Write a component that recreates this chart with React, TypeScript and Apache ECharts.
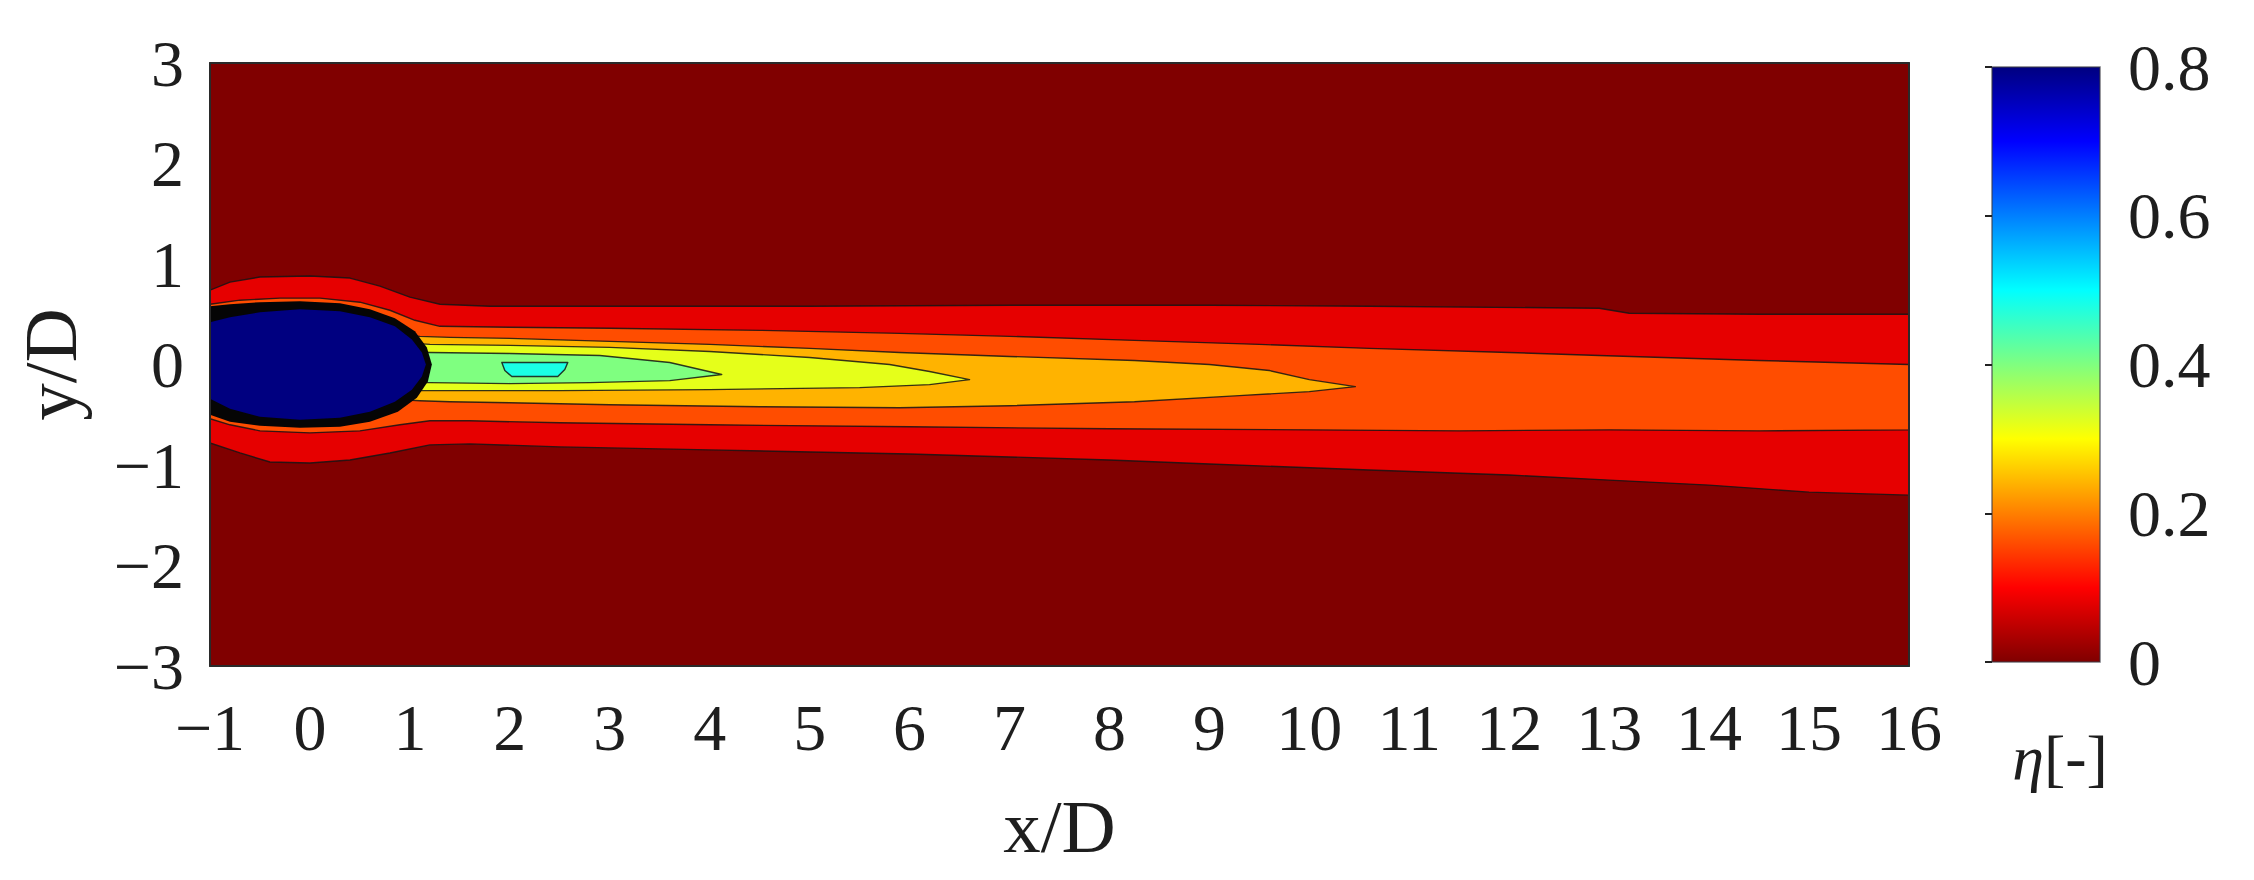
import React, { useEffect, useRef } from "react";
import * as echarts from "echarts";

// ---------------- data ----------------
const xRange = [-1, 16];
const yRange = [-3, 3];
const etaRange = [0, 0.8];
const etaTickStep = 0.2;

// reversed jet colormap stops (η, colour)
const jetEta = [0, 0.1, 0.3, 0.5, 0.7, 0.8];
const jetColors = ["#800000", "#ff0000", "#ffff00", "#00ffff", "#0000ff", "#000080"];

// filled-contour levels of η
const bandLevels = [0, 0.08, 0.16, 0.24, 0.32, 0.4, 0.48];

// contour η = 0.08 (x/D, y/D)
const contour008 = [
  [-1, 0.74], [-0.8, 0.82], [-0.5, 0.87], [0.0, 0.88], [0.4, 0.86], [0.7, 0.78], [1.0, 0.67],
  [1.3, 0.6], [1.8, 0.58], [3, 0.58], [5, 0.58], [7, 0.59], [9, 0.59], [10.6, 0.58], [12.9, 0.56],
  [13.2, 0.51], [14.5, 0.5], [16, 0.5],
  [16, -1.3], [15, -1.27], [14, -1.2], [13, -1.15], [12, -1.1], [10.6, -1.05], [9, -0.99], [8, -0.95],
  [6, -0.89], [4, -0.85], [2.5, -0.82], [1.6, -0.79], [1.2, -0.8], [0.8, -0.88], [0.4, -0.95],
  [0.0, -0.98], [-0.4, -0.97], [-0.7, -0.88], [-1, -0.78],
];
// contour η = 0.16
const contour016 = [
  [-1, 0.6], [-0.7, 0.64], [-0.3, 0.66], [0.1, 0.66], [0.5, 0.62], [0.8, 0.54], [1.05, 0.44],
  [1.3, 0.38], [2, 0.37], [3, 0.36], [4.5, 0.34], [5.9, 0.31], [7, 0.28], [8.25, 0.24], [9.5, 0.2],
  [10.6, 0.16], [12, 0.12], [12.9, 0.09], [14.5, 0.04], [16, 0.0],
  [16, -0.65], [14.5, -0.66], [13, -0.65], [11.5, -0.66], [10, -0.65], [8, -0.64], [6, -0.62],
  [4, -0.6], [2.5, -0.58], [1.6, -0.56], [1.2, -0.56], [0.9, -0.6], [0.5, -0.66], [0.0, -0.68],
  [-0.5, -0.66], [-0.8, -0.6], [-1, -0.54],
];
// contour η = 0.24
const contour024 = [
  [0.9, 0.3], [1.1, 0.28], [1.4, 0.27], [2, 0.26], [3, 0.23], [4, 0.2], [5, 0.16], [5.9, 0.12],
  [7, 0.08], [8.25, 0.04], [9, 0.0], [9.6, -0.06], [10.0, -0.15], [10.46, -0.22], [10.0, -0.27],
  [9.3, -0.31], [8.25, -0.37], [7, -0.41], [5.9, -0.43], [4.5, -0.42], [3, -0.4], [2, -0.38],
  [1.4, -0.37], [1.1, -0.36], [0.9, -0.35],
];
// contour η = 0.32
const contour032 = [
  [0.9, 0.22], [1.2, 0.2], [2, 0.19], [3, 0.17], [4, 0.13], [5, 0.07], [5.8, 0.0], [6.2, -0.07],
  [6.6, -0.15], [6.2, -0.2], [5.5, -0.23], [4, -0.25], [2.5, -0.26], [1.2, -0.26], [0.9, -0.26],
];
// contour η = 0.40
const contour040 = [
  [0.9, 0.13], [1.2, 0.12], [2, 0.11], [2.9, 0.09], [3.6, 0.02], [4.12, -0.1], [3.6, -0.16],
  [2.8, -0.18], [2, -0.19], [1.2, -0.18], [0.9, -0.18],
];
// contour η = 0.48 (island)
const contour048 = [
  [1.92, 0.02], [2.58, 0.02], [2.55, -0.05], [2.48, -0.12], [2.02, -0.12], [1.95, -0.06],
];
// packed contour lines (0.56–0.72) round the hole
const holeRing = [
  [-1, 0.58], [-0.8, 0.6], [-0.5, 0.62], [-0.1, 0.63], [0.3, 0.61], [0.6, 0.55], [0.85, 0.46],
  [1.05, 0.33], [1.17, 0.17], [1.22, 0.0], [1.18, -0.17], [1.07, -0.33], [0.88, -0.47],
  [0.6, -0.57], [0.3, -0.62], [-0.1, -0.63], [-0.5, -0.61], [-0.8, -0.57], [-1, -0.5],
];
// η ≥ 0.8 (hole)
const holeCore = [
  [-1, 0.42], [-0.8, 0.47], [-0.5, 0.52], [-0.1, 0.55], [0.3, 0.53], [0.6, 0.47], [0.85, 0.38],
  [1.02, 0.25], [1.12, 0.12], [1.16, 0.0], [1.12, -0.12], [1.02, -0.25], [0.85, -0.37],
  [0.6, -0.47], [0.3, -0.53], [-0.1, -0.55], [-0.5, -0.52], [-0.8, -0.44], [-1, -0.34],
];

// ---------------- helpers ----------------
function hexToRgb(h: string) {
  const n = parseInt(h.slice(1), 16);
  return [(n >> 16) & 255, (n >> 8) & 255, n & 255];
}
function jet(eta: number) {
  for (let i = 0; i < jetEta.length - 1; i++) {
    if (eta <= jetEta[i + 1]) {
      const t = (eta - jetEta[i]) / (jetEta[i + 1] - jetEta[i]);
      const a = hexToRgb(jetColors[i]);
      const b = hexToRgb(jetColors[i + 1]);
      const c = a.map((v, k) => Math.round(v + (b[k] - v) * t));
      return `rgb(${c[0]},${c[1]},${c[2]})`;
    }
  }
  return jetColors[jetColors.length - 1];
}
const fmtMinus = (v: number) => (v < 0 ? "\u2212" + Math.abs(v) : String(v));

const FONT = "'Liberation Serif', 'DejaVu Serif', serif";
const TXT = "#1e1e1e";

export default function App() {
  const ref = useRef<HTMLDivElement>(null);
  useEffect(() => {
    document.body.style.margin = "0";
    const chart = echarts.init(ref.current!, null, { renderer: "svg" });

    const domain = [
      [xRange[0], yRange[0]], [xRange[1], yRange[0]], [xRange[1], yRange[1]], [xRange[0], yRange[1]],
    ];
    const bandPolys = [domain, contour008, contour016, contour024, contour032, contour040, contour048];
    const shapes: { pts: number[][]; fill: string; stroke: string; lw: number }[] = bandPolys.map((p, i) => ({
      pts: p,
      fill: jet(bandLevels[i]),
      stroke: i === 0 ? "none" : "rgba(20,20,20,0.85)",
      lw: 1.4,
    }));
    shapes.push({ pts: holeRing, fill: "#050505", stroke: "none", lw: 0 });
    shapes.push({ pts: holeCore, fill: jet(etaRange[1]), stroke: "none", lw: 0 });

    const stops = jetEta.map((e, i) => ({ offset: (e - etaRange[0]) / (etaRange[1] - etaRange[0]), color: jetColors[i] }));

    const frameLine = { show: true, onZero: false, lineStyle: { color: "#2a2a2a", width: 2 } };

    chart.setOption({
      animation: false,
      backgroundColor: "#ffffff",
      grid: [
        { left: 210, top: 63, width: 1699, height: 603 },
        { left: 1992, top: 67, width: 108, height: 595 },
      ],
      xAxis: [
        {
          gridIndex: 0, type: "value", min: xRange[0], max: xRange[1], interval: 1, z: 5,
          axisLine: frameLine, axisTick: { show: false }, splitLine: { show: false },
          axisLabel: { formatter: fmtMinus, fontFamily: FONT, fontSize: 66, color: TXT, margin: 28 },
          name: "x/D", nameLocation: "middle", nameGap: 123,
          nameTextStyle: { fontFamily: FONT, fontSize: 75, color: TXT },
        },
        {
          gridIndex: 0, type: "value", position: "top", min: xRange[0], max: xRange[1], z: 5,
          axisLine: frameLine, axisTick: { show: false }, axisLabel: { show: false }, splitLine: { show: false },
        },
        {
          gridIndex: 1, type: "value", min: 0, max: 1, show: false,
        },
      ],
      yAxis: [
        {
          gridIndex: 0, type: "value", min: yRange[0], max: yRange[1], interval: 1, z: 5,
          axisLine: frameLine, axisTick: { show: false }, splitLine: { show: false },
          axisLabel: { formatter: fmtMinus, fontFamily: FONT, fontSize: 66, color: TXT, margin: 26 },
          name: "y/D", nameLocation: "middle", nameGap: 122, nameRotate: 90,
          nameTextStyle: { fontFamily: FONT, fontSize: 75, color: TXT },
        },
        {
          gridIndex: 0, type: "value", position: "right", min: yRange[0], max: yRange[1], z: 5,
          axisLine: frameLine, axisTick: { show: false }, axisLabel: { show: false }, splitLine: { show: false },
        },
        {
          gridIndex: 1, type: "value", position: "right", min: etaRange[0], max: etaRange[1], interval: etaTickStep, z: 5,
          axisLine: { show: false }, splitLine: { show: false },
          axisTick: { show: true, inside: true, length: 7, lineStyle: { color: "#222", width: 2 } },
          axisLabel: {
            formatter: (v: number) => String(Math.round(v * 10) / 10),
            fontFamily: FONT, fontSize: 66, color: TXT, margin: 28,
          },
        },
      ],
      series: [
        {
          type: "custom",
          xAxisIndex: 0,
          yAxisIndex: 0,
          z: 1,
          clip: true,
          data: shapes.map((_, i) => [i, 0]),
          renderItem: (params: any, api: any) => {
            const s = shapes[params.dataIndex];
            const points = s.pts.map((p) => api.coord(p));
            return {
              type: "polygon",
              shape: { points },
              style: { fill: s.fill, stroke: s.stroke, lineWidth: s.lw, lineJoin: "round" },
            };
          },
        },
        {
          type: "custom",
          xAxisIndex: 2,
          yAxisIndex: 2,
          z: 1,
          data: [[0, etaRange[0]]],
          renderItem: (params: any, api: any) => {
            const p0 = api.coord([0, etaRange[0]]);
            const p1 = api.coord([1, etaRange[1]]);
            return {
              type: "rect",
              shape: { x: p0[0], y: p1[1], width: p1[0] - p0[0], height: p0[1] - p1[1] },
              style: {
                fill: new echarts.graphic.LinearGradient(0, 1, 0, 0, stops),
                stroke: "rgba(60,60,70,0.7)",
                lineWidth: 1.5,
              },
            };
          },
        },
      ],
      graphic: [
        {
          type: "text",
          x: 2060,
          y: 757,
          style: {
            text: "{i|η}[-]",
            align: "center",
            verticalAlign: "middle",
            fontFamily: FONT,
            fontSize: 64,
            fill: TXT,
            rich: { i: { fontStyle: "italic", fontFamily: FONT, fontSize: 64, fill: TXT } },
          },
        },
      ],
    });
    return () => chart.dispose();
  }, []);
  return <div ref={ref} style={{ width: 2254, height: 880 }} />;
}
